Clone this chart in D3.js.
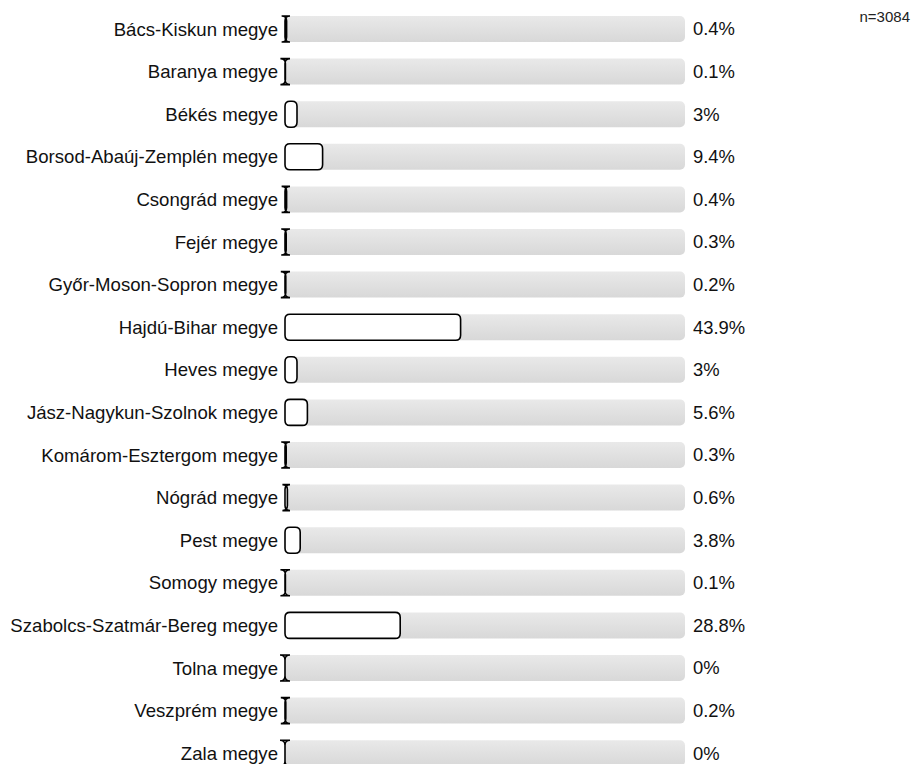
<!DOCTYPE html>
<html>
<head>
<meta charset="utf-8">
<script src="https://cdn.jsdelivr.net/npm/d3@7"></script>
<style>
    body { margin: 0; background: #fff; }
    svg { display: block; font-family: 'Liberation Sans', Arial, sans-serif; }
</style>
</head>
<body>
<script>
const [W, H] = [913, 764];

const counties = ['Bács-Kiskun megye', 'Baranya megye', 'Békés megye', 'Borsod-Abaúj-Zemplén megye',
    'Csongrád megye', 'Fejér megye', 'Győr-Moson-Sopron megye', 'Hajdú-Bihar megye', 'Heves megye',
    'Jász-Nagykun-Szolnok megye', 'Komárom-Esztergom megye', 'Nógrád megye', 'Pest megye',
    'Somogy megye', 'Szabolcs-Szatmár-Bereg megye', 'Tolna megye', 'Veszprém megye', 'Zala megye'];
const percents = [0.4, 0.1, 3, 9.4, 0.4, 0.3, 0.2, 43.9, 3, 5.6, 0.3, 0.6, 3.8, 0.1, 28.8, 0, 0.2, 0];
const total = 3084;

const rows = counties.map((c, i) => ({ name: c, value: percents[i] }));

const svg = d3.select('body').append('svg').attr('width', W).attr('height', H);

// gradient for the gray track
const grad = svg.append('defs').append('linearGradient')
    .attr('id', 'track').attr('x1', 0).attr('y1', 0).attr('x2', 0).attr('y2', 1);
grad.append('stop').attr('offset', '0%').attr('stop-color', '#e9e9e9');
grad.append('stop').attr('offset', '100%').attr('stop-color', '#d8d8d8');

const x = d3.scaleLinear().domain([0, 100]).range([285, 685]);
const y = d3.scaleBand().domain(counties)
    .range([7.7, 7.7 + counties.length * 42.6])
    .paddingInner(0.39).paddingOuter(0.195);

// rounded rect with a fixed corner radius, even when the bar is thinner than it
function barPath(x0, y0, w, h, r) {
    return 'M' + (x0 + r) + ',' + y0 +
        'H' + (x0 + w - r) +
        'Q' + (x0 + w) + ',' + y0 + ' ' + (x0 + w) + ',' + (y0 + r) +
        'V' + (y0 + h - r) +
        'Q' + (x0 + w) + ',' + (y0 + h) + ' ' + (x0 + w - r) + ',' + (y0 + h) +
        'H' + (x0 + r) +
        'Q' + x0 + ',' + (y0 + h) + ' ' + x0 + ',' + (y0 + h - r) +
        'V' + (y0 + r) +
        'Q' + x0 + ',' + y0 + ' ' + (x0 + r) + ',' + y0 + 'Z';
}

const row = svg.selectAll('g.row').data(rows).enter()
    .append('g').attr('class', 'row');

row.append('rect')
    .attr('x', x(0))
    .attr('y', d => y(d.name))
    .attr('width', x(100) - x(0))
    .attr('height', y.bandwidth())
    .attr('rx', 5)
    .attr('fill', 'url(#track)');

row.append('path')
    .attr('d', d => barPath(x(0), y(d.name), x(d.value) - x(0), y.bandwidth(), 5))
    .attr('fill', '#fff')
    .attr('stroke', '#000')
    .attr('stroke-width', 1.6);

row.append('text')
    .attr('x', 278)
    .attr('y', d => y(d.name) + y.bandwidth() / 2)
    .attr('dy', '.35em')
    .style('text-anchor', 'end')
    .style('font-size', '18.6px')
    .attr('fill', '#111')
    .text(d => d.name);

row.append('text')
    .attr('x', 693)
    .attr('y', d => y(d.name) + y.bandwidth() / 2)
    .attr('dy', '.35em')
    .style('font-size', '18.4px')
    .attr('fill', '#111')
    .text(d => d.value + '%');

svg.append('text')
    .attr('x', 910)
    .attr('y', 22)
    .style('text-anchor', 'end')
    .style('font-size', '15px')
    .attr('fill', '#222')
    .text('n=' + total);
</script>
</body>
</html>
